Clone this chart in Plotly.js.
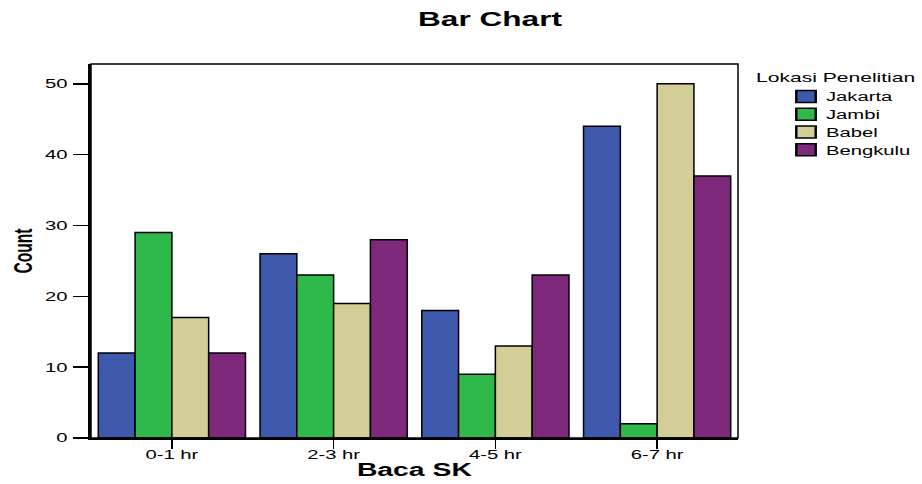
<!DOCTYPE html>
<html>
<head>
<meta charset="utf-8">
<script src="https://cdn.plot.ly/plotly-3.0.1.min.js"></script>
<style>html,body{margin:0;padding:0;background:#fff;}#chart{width:922px;height:484px;}</style>
</head>
<body>
<div id="chart"></div>
<script>
const categories = ["0-1 hr", "2-3 hr", "4-5 hr", "6-7 hr"];
const seriesNames = ["Jakarta", "Jambi", "Babel", "Bengkulu"];
const jakarta = [12, 26, 18, 44];
const jambi = [29, 23, 9, 2];
const babel = [17, 19, 13, 50];
const bengkulu = [12, 28, 23, 37];
const colors = ["#3e58ac", "#2fb94a", "#d3ce97", "#7e287c"];
const yTicks = [0, 10, 20, 30, 40, 50];

const values = [jakarta, jambi, babel, bengkulu];
const traces = values.map((v, i) => ({
  type: "bar",
  name: seriesNames[i],
  x: categories,
  y: v,
  marker: {color: colors[i], line: {color: "#000", width: 1.5}},
  hoverinfo: "x+y+name"
}));

const fontFam = "Arial, 'Liberation Sans', sans-serif";
const layout = {
  width: 922, height: 484,
  margin: {l: 91, r: 184, t: 64, b: 46},
  paper_bgcolor: "#fff", plot_bgcolor: "#fff",
  barmode: "group", bargap: 0.09, bargroupgap: 0,
  font: {family: fontFam, size: 13, color: "#000"},
  title: {text: "<b>Bar Chart</b>", font: {family: fontFam, size: 19.5, color: "#000"},
          x: 0.617, xref: "paper", xanchor: "center", y: 0.96, yref: "container", yanchor: "middle"},
  xaxis: {
    type: "category", range: [-0.5, 3.5],
    showline: true, linecolor: "#000", linewidth: 2,
    ticks: "outside", ticklen: 9, tickwidth: 1.5, tickcolor: "#000",
    showgrid: false, zeroline: false,
    tickfont: {family: fontFam, size: 12.5},
    title: {text: "<b>Baca SK</b>", font: {family: fontFam, size: 17.5}, standoff: 4}
  },
  yaxis: {
    range: [0, 52.8], tickvals: yTicks,
    showline: true, linecolor: "#000", linewidth: 3,
    ticks: "outside", ticklen: 15, tickwidth: 1.5, tickcolor: "#000",
    showgrid: false, zeroline: false,
    tickfont: {family: fontFam, size: 12.5},
    title: {text: "<b>Count</b>", font: {family: fontFam, size: 15.6}, standoff: 24}
  },
  showlegend: true,
  legend: {x: 1.0742, xanchor: "left", y: 0.952, yanchor: "top",
           font: {family: fontFam, size: 12.5}, tracegroupgap: 0, itemwidth: 30,
           bgcolor: "rgba(0,0,0,0)"},
  annotations: [{text: "Lokasi Penelitian", xref: "paper", yref: "paper", x: 1.025, y: 0.963,
                 xanchor: "left", yanchor: "middle", showarrow: false, font: {family: fontFam, size: 13}}],
  shapes: [{type: "rect", xref: "paper", yref: "paper", x0: 0, x1: 1, y0: 0, y1: 1,
            line: {color: "#000", width: 1.5}, layer: "above"}]
};

const SX = 1.62;
function stretchEl(el, sx, mode, dy, dx) {
  const r = el.getBoundingClientRect();
  const px = mode === "start" ? r.left : mode === "end" ? r.right : (r.left + r.right) / 2;
  const py = (r.top + r.bottom) / 2;
  const svg = el.ownerSVGElement;
  const pt = svg.createSVGPoint();
  pt.x = px; pt.y = py;
  const lp = pt.matrixTransform(el.parentNode.getScreenCTM().inverse());
  const old = el.getAttribute("transform") || "";
  el.setAttribute("transform",
    "translate(" + (dx || 0) + "," + (dy || 0) + ") translate(" + lp.x + ",0) scale(" + sx + ",1) translate(" + (-lp.x) + ",0) " + old);
}
function applyAll(gd) {
  const q = s => Array.from(gd.querySelectorAll(s));
  q(".xtick text").forEach(e => stretchEl(e, SX, "middle", -5, 0));
  q(".ytick text").forEach(e => stretchEl(e, SX, "end", 0, -3));
  q(".g-gtitle text").forEach(e => stretchEl(e, SX, "middle", 0, 0));
  q(".g-xtitle text").forEach(e => stretchEl(e, SX, "middle", -4, 0));
  q(".g-ytitle text").forEach(e => stretchEl(e, SX, "middle", 0, 0));
  q(".annotation-text").forEach(e => stretchEl(e, SX, "start", 0, 0));
  q(".legend .legendtext").forEach(e => stretchEl(e, SX, "start", 0, 0));
  q(".legend .legendpoints path").forEach(e => stretchEl(e, SX, "middle", 0, 0));
  q(".legend, .legend *").forEach(e => e.removeAttribute("clip-path"));
  q("svg *").forEach(e => { if (e.closest && e.closest(".legend")) e.style.clipPath = "none"; });
  const items = q(".legend .traces");
  if (items.length) {
    const parse = e => {
      const m = /translate\(\s*([-\d.e]+)[ ,]+([-\d.e]+)\s*\)/.exec(e.getAttribute("transform") || "");
      return m ? [parseFloat(m[1]), parseFloat(m[2])] : [0, 0];
    };
    const y0 = parse(items[0])[1];
    items.forEach(e => {
      const p = parse(e);
      e.setAttribute("transform", "translate(" + p[0] + "," + (y0 + (p[1] - y0) * 0.92) + ")");
    });
  }
}

Plotly.newPlot("chart", traces, layout, {displayModeBar: false, staticPlot: true})
  .then(gd => applyAll(gd));
</script>
</body>
</html>
